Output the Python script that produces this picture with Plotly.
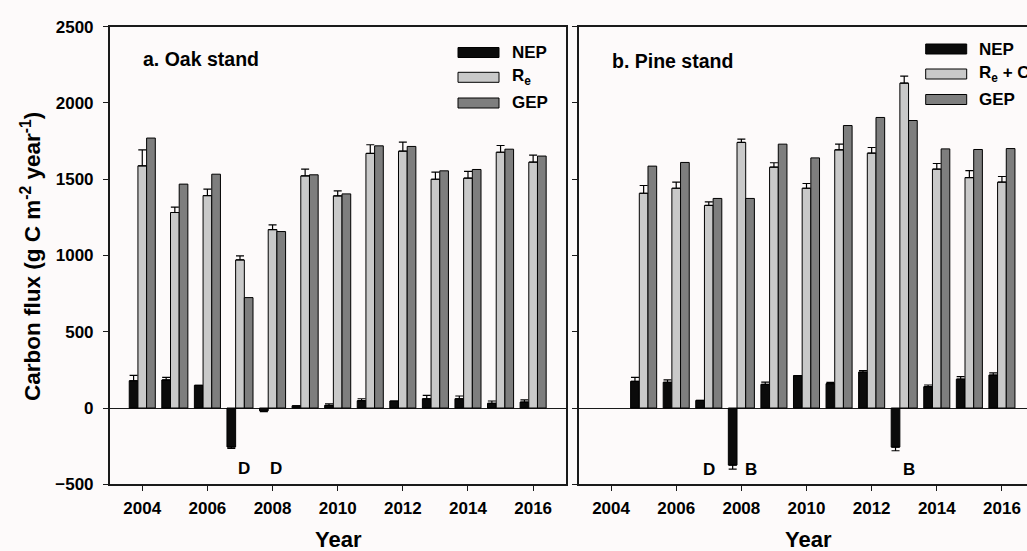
import plotly.graph_objects as go

# ---------------- data ----------------
years_a = [2004, 2005, 2006, 2007, 2008, 2009, 2010, 2011, 2012, 2013, 2014, 2015, 2016]
nep_a = [179, 184, 149, -255, -18, 15, 18, 48, 46, 61, 61, 31, 39]
nep_a_err = [35, 17, 0, 10, 6, 0, 10, 13, 0, 22, 18, 15, 15]
re_a = [1588, 1282, 1393, 971, 1170, 1522, 1391, 1669, 1684, 1500, 1507, 1677, 1612]
re_a_err = [105, 35, 42, 26, 31, 44, 33, 57, 59, 46, 44, 44, 46]
gep_a = [1770, 1468, 1533, 724, 1157, 1529, 1404, 1719, 1715, 1555, 1564, 1697, 1652]

years_b = [2005, 2006, 2007, 2008, 2009, 2010, 2011, 2012, 2013, 2014, 2015, 2016]
nep_b = [175, 169, 50, -374, 155, 213, 160, 236, -256, 140, 189, 216]
nep_b_err = [26, 15, 0, 26, 15, 0, 8, 10, 24, 11, 17, 15]
re_b = [1408, 1441, 1328, 1741, 1579, 1441, 1693, 1671, 2130, 1566, 1511, 1481]
re_b_err = [51, 40, 24, 22, 29, 31, 37, 37, 46, 37, 46, 37]
gep_b = [1586, 1610, 1374, 1374, 1730, 1640, 1852, 1905, 1885, 1699, 1695, 1701]

tick_years = [2004, 2006, 2008, 2010, 2012, 2014, 2016]
y_ticks = [-500, 0, 500, 1000, 1500, 2000, 2500]

labels_a = [(2007.12, "D"), (2008.12, "D")]
labels_b = [(2007.0, "D"), (2008.3, "B"), (2013.15, "B")]

# ---------------- style ----------------
W, H = 1027, 551
BG = "#fdfafa"
C_NEP = "#0b0b0b"
C_RE = "#c9c9c9"
C_GEP = "#7e7e7e"
FONT = "Arial, Liberation Sans, sans-serif"
AX = "#1a1a1a"


def up_down(vals, errs):
    plus = [e if v >= 0 else 0 for v, e in zip(vals, errs)]
    minus = [0 if v >= 0 else e for v, e in zip(vals, errs)]
    return plus, minus


def err(vals, errs):
    p, m = up_down(vals, errs)
    return dict(type="data", symmetric=False, array=p, arrayminus=m,
                color="black", thickness=1.2, width=4)


fig = go.Figure()

for xs, nep, nep_e, re, re_e, gep, xa, ya in [
    (years_a, nep_a, nep_a_err, re_a, re_a_err, gep_a, "x", "y"),
    (years_b, nep_b, nep_b_err, re_b, re_b_err, gep_b, "x2", "y2"),
]:
    fig.add_trace(go.Bar(x=xs, y=nep, marker=dict(color=C_NEP, line=dict(color="black", width=1)),
                         error_y=err(nep, nep_e), xaxis=xa, yaxis=ya, offsetgroup="a", showlegend=False))
    fig.add_trace(go.Bar(x=xs, y=re, marker=dict(color=C_RE, line=dict(color="black", width=1)),
                         error_y=err(re, re_e), xaxis=xa, yaxis=ya, offsetgroup="b", showlegend=False))
    fig.add_trace(go.Bar(x=xs, y=gep, marker=dict(color=C_GEP, line=dict(color="black", width=1)),
                         xaxis=xa, yaxis=ya, offsetgroup="c", showlegend=False))

y_top, y_bot = 26.7, 484.3
ydom = [1 - y_bot / H, 1 - y_top / H]
xa_l, xa_r = 109.7, 565.7
xb_l = 578.5
px_per_year = (xa_r - xa_l) / 14.0
xb_end = 2003 + (W - xb_l) / px_per_year

tickfont = dict(family=FONT, size=17, color="black", weight="bold")

common_x = dict(tickvals=tick_years, ticks="outside", ticklen=5, tickwidth=1.3, tickcolor=AX,
                showline=True, linecolor=AX, linewidth=1.5, showgrid=False, zeroline=False,
                tickfont=tickfont, automargin=False, ticklabelstandoff=3)
common_y = dict(range=[-500, 2500], tickvals=y_ticks, ticks="outside", ticklen=5, tickwidth=1.3,
                tickcolor=AX, showline=True, linecolor=AX, linewidth=1.5, showgrid=False,
                zeroline=True, zerolinecolor=AX, zerolinewidth=1.2, tickfont=tickfont,
                automargin=False)

fig.update_layout(
    width=W, height=H,
    margin=dict(l=0, r=0, t=0, b=0),
    paper_bgcolor=BG, plot_bgcolor=BG,
    barmode="group", bargap=0.2, bargroupgap=0,
    font=dict(family=FONT, color="black"),
    xaxis=dict(domain=[xa_l / W, xa_r / W], range=[2003, 2017], mirror=True, anchor="y", **common_x),
    yaxis=dict(domain=ydom, mirror=True, anchor="x", ticklabelstandoff=6, **common_y),
    xaxis2=dict(domain=[xb_l / W, 1.0], range=[2003, xb_end], mirror=True, anchor="y2", **common_x),
    yaxis2=dict(domain=ydom, mirror=False, anchor="x2", showticklabels=False, **common_y),
)

ann = []
# letters
for x, t in labels_a:
    ann.append(dict(x=x, y=-395, xref="x", yref="y", text="<b>%s</b>" % t, showarrow=False,
                    font=dict(size=17, family=FONT, color="black")))
for x, t in labels_b:
    ann.append(dict(x=x, y=-405, xref="x2", yref="y2", text="<b>%s</b>" % t, showarrow=False,
                    font=dict(size=17, family=FONT, color="black")))

# panel titles
ann.append(dict(x=141 / W, y=1 - 59.5 / H, xref="paper", yref="paper", xanchor="left", yanchor="middle",
                text="<b>a. Oak stand</b>", showarrow=False, font=dict(size=19.5, family=FONT)))
ann.append(dict(x=610 / W, y=1 - 61.5 / H, xref="paper", yref="paper", xanchor="left", yanchor="middle",
                text="<b>b. Pine stand</b>", showarrow=False, font=dict(size=19.5, family=FONT)))

# axis titles
ann.append(dict(x=31 / W, y=1 - 257 / H, xref="paper", yref="paper", xanchor="center", yanchor="middle",
                text="<b>Carbon flux (g C m<sup>-2</sup> year<sup>-1</sup>)</b>", textangle=-90,
                showarrow=False, font=dict(size=22.5, family=FONT)))
for cx in [338, 808]:
    ann.append(dict(x=cx / W, y=1 - 539.5 / H, xref="paper", yref="paper", xanchor="center", yanchor="middle",
                    text="<b>Year</b>", showarrow=False, font=dict(size=22, family=FONT)))

# legends
shapes = []
legend_items = [
    ([458, 499], 510, [52.5, 77.3, 103], ["NEP", "R<sub>e</sub>", "GEP"]),
    ([925.7, 966.7], 976.7, [49, 74, 99.5], ["NEP", "R<sub>e</sub> + C", "GEP"]),
]
for (x0, x1), tx, ys, names in legend_items:
    for yc, name, col in zip(ys, names, [C_NEP, C_RE, C_GEP]):
        shapes.append(dict(type="rect", xref="paper", yref="paper",
                           x0=x0 / W, x1=x1 / W, y0=1 - (yc + 5) / H, y1=1 - (yc - 5) / H,
                           fillcolor=col, line=dict(color="black", width=1)))
        ann.append(dict(x=tx / W, y=1 - yc / H, xref="paper", yref="paper", xanchor="left",
                        yanchor="middle", text="<b>%s</b>" % name, showarrow=False,
                        font=dict(size=17, family=FONT)))

fig.update_layout(annotations=ann, shapes=shapes)

fig.write_html("out.html")
